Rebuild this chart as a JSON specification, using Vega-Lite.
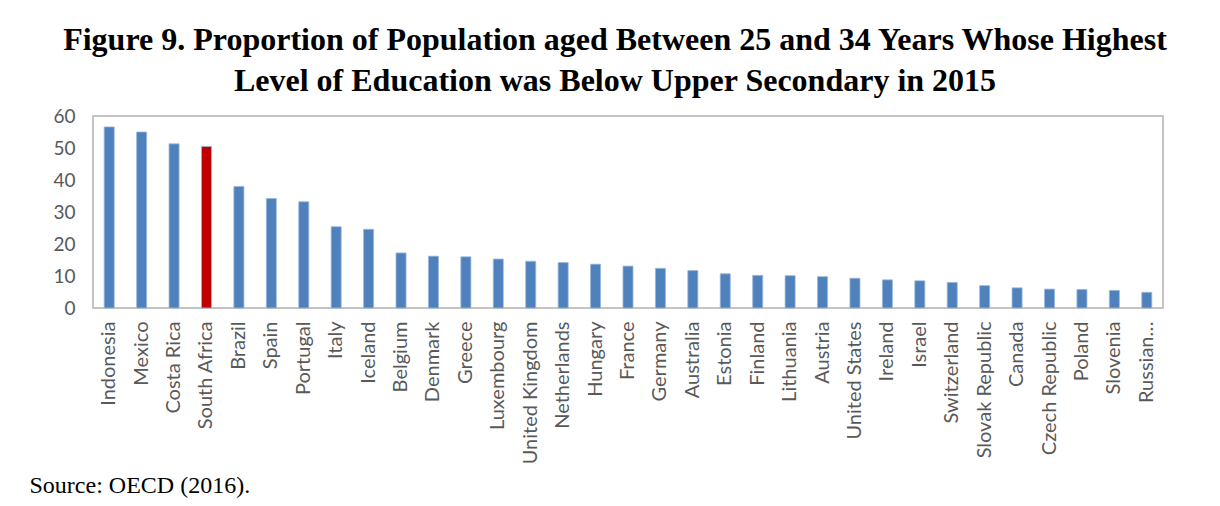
{
  "$schema": "https://vega.github.io/schema/vega-lite/v6.json",
  "width": 1070,
  "height": 192,
  "autosize": "none",
  "padding": {"left": 93, "top": 116, "right": 57, "bottom": 198},
  "background": "white",
  "title": {
    "text": ["Figure 9. Proportion of Population aged Between 25 and 34 Years Whose Highest", "Level of Education was Below Upper Secondary in 2015"],
    "font": "Liberation Serif",
    "fontSize": 32,
    "fontWeight": "bold",
    "color": "black",
    "anchor": "middle",
    "frame": "group",
    "dx": -13,
    "lineHeight": 41,
    "offset": 9
  },
  "data": {
    "values": [
      {"country": "Indonesia", "value": 56.6},
      {"country": "Mexico", "value": 55.0},
      {"country": "Costa Rica", "value": 51.3},
      {"country": "South Africa", "value": 50.5},
      {"country": "Brazil", "value": 38.0},
      {"country": "Spain", "value": 34.2},
      {"country": "Portugal", "value": 33.2},
      {"country": "Italy", "value": 25.4},
      {"country": "Iceland", "value": 24.6},
      {"country": "Belgium", "value": 17.2},
      {"country": "Denmark", "value": 16.2},
      {"country": "Greece", "value": 16.0},
      {"country": "Luxembourg", "value": 15.3},
      {"country": "United Kingdom", "value": 14.6},
      {"country": "Netherlands", "value": 14.2},
      {"country": "Hungary", "value": 13.7},
      {"country": "France", "value": 13.1},
      {"country": "Germany", "value": 12.4},
      {"country": "Australia", "value": 11.7},
      {"country": "Estonia", "value": 10.7},
      {"country": "Finland", "value": 10.2},
      {"country": "Lithuania", "value": 10.1},
      {"country": "Austria", "value": 9.8},
      {"country": "United States", "value": 9.3},
      {"country": "Ireland", "value": 8.8},
      {"country": "Israel", "value": 8.5},
      {"country": "Switzerland", "value": 8.0},
      {"country": "Slovak Republic", "value": 7.0},
      {"country": "Canada", "value": 6.3},
      {"country": "Czech Republic", "value": 5.9},
      {"country": "Poland", "value": 5.8},
      {"country": "Slovenia", "value": 5.5},
      {"country": "Russian Federation", "value": 4.9}
    ]
  },
  "mark": {"type": "bar", "stroke": "#9DB8DC", "strokeWidth": 0.8},
  "encoding": {
    "x": {
      "field": "country",
      "type": "nominal",
      "sort": null,
      "scale": {"paddingInner": 0.69, "paddingOuter": 0.345},
      "axis": {
        "title": "Source: OECD (2016).",
        "titleFont": "Liberation Serif",
        "titleFontSize": 24,
        "titleFontWeight": "normal",
        "titleColor": "black",
        "titleAlign": "left",
        "titleAnchor": null,
        "titleX": -64,
        "titleY": 184,
        "titleBaseline": "alphabetic",
        "labelAngle": -90,
        "labelFont": "Lato",
        "labelFontSize": 20,
        "labelColor": "#595959",
        "labelPadding": 13,
        "labelLimit": 200,
        "labelExpr": "datum.label == 'Russian Federation' ? 'Russian…' : datum.label",
        "domain": false,
        "ticks": false
      }
    },
    "y": {
      "field": "value",
      "type": "quantitative",
      "scale": {"domain": [0, 60], "nice": false},
      "axis": {
        "title": null,
        "values": [0, 10, 20, 30, 40, 50, 60],
        "labelFont": "Lato",
        "labelFontSize": 19,
        "labelColor": "#595959",
        "labelPadding": 18,
        "domain": false,
        "ticks": false,
        "grid": false
      }
    },
    "color": {
      "condition": {"test": "datum.country == 'South Africa'", "value": "#C00000"},
      "value": "#4F81BD"
    }
  },
  "config": {
    "view": {"stroke": "#C4C4C4", "strokeWidth": 2}
  }
}
